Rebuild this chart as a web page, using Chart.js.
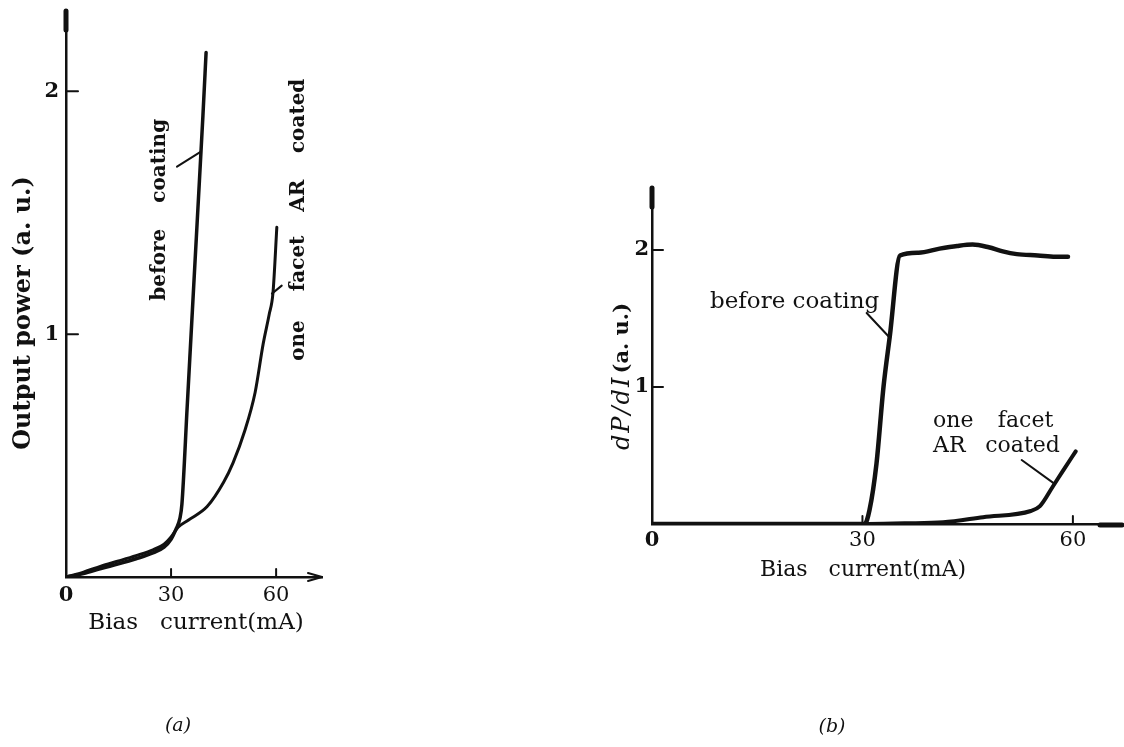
<!DOCTYPE html>
<html><head><meta charset="utf-8">
<script src="https://cdn.jsdelivr.net/npm/chart.js@4.4.1/dist/chart.umd.min.js"></script>
<style>
html,body{margin:0;padding:0;background:#fff;}
#wrap{position:relative;width:1124px;height:747px;overflow:hidden;background:#fff;}
canvas{position:absolute;top:0;}
#ca{left:0;} #cb{left:562px;}
</style></head><body>
<div id="wrap"><canvas id="ca" width="562" height="747"></canvas><canvas id="cb" width="562" height="747"></canvas></div>
<script>
const INK = '#111';
const SERIF = "'DejaVu Serif', 'Liberation Serif', serif";

// ---- Panel (a): output power vs bias current ----
const aTicksX = [0, 30, 60];
const aTicksY = [1, 2];
const aBeforeI = [0, 5, 10, 15, 20, 25, 28, 30, 31.5, 32.5, 33.1, 34.6, 36.1, 37.6, 39.1, 40];
const aBeforeP = [0, 0.014, 0.035, 0.054, 0.075, 0.1, 0.123, 0.155, 0.2, 0.24, 0.3, 0.7, 1.1, 1.5, 1.9, 2.16];
const aArI = [0, 5, 10, 15, 20, 25, 28, 30, 32, 35, 40.3, 45, 47.7, 51, 54, 56.3, 58, 59.1, 60.2];
const aArP = [0, 0.02, 0.045, 0.066, 0.088, 0.113, 0.135, 0.165, 0.205, 0.235, 0.29, 0.39, 0.47, 0.6, 0.76, 0.96, 1.08, 1.17, 1.44];

// ---- Panel (b): dP/dI vs bias current ----
const bTicksX = [0, 30, 60];
const bTicksY = [1, 2];
const bBeforeI = [0, 10, 20, 30.3, 31, 32, 33, 33.9, 35.35, 38, 41, 43.5, 45.7, 48, 50, 52, 55, 57.5, 59.3];
const bBeforeD = [0, 0, 0, 0, 0.1, 0.44, 1.0, 1.37, 1.96, 1.98, 2.01, 2.03, 2.04, 2.02, 1.99, 1.97, 1.96, 1.95, 1.95];
const bArI = [0, 10, 20, 30, 36, 41.5, 47.2, 54, 55.3, 57.1, 58.6, 60.4];
const bArD = [0, 0, 0, 0, 0.005, 0.012, 0.05, 0.095, 0.13, 0.27, 0.39, 0.53];

const pts = (xs, ys) => xs.map((v, i) => ({x: v, y: ys[i]}));

function seg(ctx, x1, y1, x2, y2) { ctx.beginPath(); ctx.moveTo(x1, y1); ctx.lineTo(x2, y2); ctx.stroke(); }

function makeDecor(cfg) {
  return {
    id: 'decor_' + cfg.name,
    afterDraw(chart) {
      const {ctx, chartArea: ca} = chart;
      const x = chart.scales.x, y = chart.scales.y;
      ctx.save();
      ctx.strokeStyle = INK; ctx.fillStyle = INK; ctx.lineCap = 'round';
      ctx.lineWidth = 2;
      cfg.xTicks.forEach(v => { if (v === 0) return; const px = x.getPixelForValue(v); seg(ctx, px, ca.bottom, px, ca.bottom - cfg.xTickLen); });
      cfg.yTicks.forEach(v => { const py = y.getPixelForValue(v); seg(ctx, ca.left, py, ca.left + cfg.yTickLen, py); });
      ctx.lineWidth = 5; seg(ctx, ca.left, ca.top + 1, ca.left, ca.top + 20);
      cfg.axisEnd(ctx, ca);
      ctx.lineWidth = 2;
      cfg.leaders.forEach(L => seg(ctx, x.getPixelForValue(L[0]), y.getPixelForValue(L[1]), x.getPixelForValue(L[2]), y.getPixelForValue(L[3])));
      cfg.labels.forEach(l => {
        ctx.save();
        ctx.font = l.font;
        ctx.translate(x.getPixelForValue(l.x), y.getPixelForValue(l.y));
        if (l.rot) ctx.rotate(-Math.PI / 2);
        ctx.textAlign = l.align || 'center';
        ctx.textBaseline = l.base || 'middle';
        ctx.fillText(l.t, 0, 0);
        ctx.restore();
      });
      cfg.extra(ctx, ca);
      ctx.restore();
    }
  };
}

function scales(o) {
  return {
    x: {
      type: 'linear', min: 0, max: o.xMax,
      afterBuildTicks: s => { s.ticks = o.xTicks.map(v => ({value: v})); },
      afterFit: s => { s.height = o.xH; s.paddingLeft = 0; s.paddingRight = 0; },
      grid: {display: false, drawTicks: false},
      border: {display: true, color: INK, width: 2.5},
      ticks: {color: INK, padding: o.xPad, autoSkip: false, maxRotation: 0,
        font: c => ({family: SERIF, size: 21, weight: (c.tick && c.tick.value === 0) ? 'bold' : 'normal'})}
    },
    y: {
      type: 'linear', min: 0, max: o.yMax,
      afterBuildTicks: s => { s.ticks = o.yTicks.map(v => ({value: v})); },
      afterFit: s => { s.width = o.yW; s.paddingTop = 0; s.paddingBottom = 0; },
      grid: {display: false, drawTicks: false},
      border: {display: true, color: INK, width: 2.5},
      ticks: {color: INK, padding: o.yPad, font: {family: SERIF, size: 21, weight: 'bold'}}
    }
  };
}

const common = {
  responsive: false, animation: false, devicePixelRatio: 1,
  plugins: {legend: {display: false}, tooltip: {enabled: false}},
  elements: {point: {radius: 0}, line: {cubicInterpolationMode: 'monotone', borderCapStyle: 'round', borderJoinStyle: 'round'}}
};

// Chart (a)
new Chart(document.getElementById('ca'), {
  type: 'line',
  data: {datasets: [
    {label: 'before coating', data: pts(aBeforeI, aBeforeP), borderColor: INK, borderWidth: 3.5, fill: false},
    {label: 'one facet AR coated', data: pts(aArI, aArP), borderColor: INK, borderWidth: 3, fill: false}
  ]},
  options: Object.assign({}, common, {
    layout: {padding: {left: 0, top: 10, right: 240, bottom: 97}},
    scales: scales({xMax: 73.1, yMax: 2.335, xTicks: aTicksX, yTicks: aTicksY, xH: 73, yW: 66, xPad: 6, yPad: 7})
  }),
  plugins: [makeDecor({
    name: 'a', xTicks: aTicksX, yTicks: aTicksY, xTickLen: 8, yTickLen: 12,
    axisEnd: (ctx, ca) => {
      ctx.lineWidth = 2;
      seg(ctx, ca.right - 14, ca.bottom - 4, ca.right, ca.bottom);
      seg(ctx, ca.right - 14, ca.bottom + 4, ca.right, ca.bottom);
    },
    leaders: [[31.7, 1.69, 38.3, 1.75], [58.8, 1.167, 61.6, 1.2]],
    labels: [
      {t: 'coating', x: 26.8, y: 1.714, rot: true, font: 'bold 20px ' + SERIF},
      {t: 'before', x: 26.8, y: 1.286, rot: true, font: 'bold 20px ' + SERIF},
      {t: 'coated', x: 66.5, y: 1.899, rot: true, font: 'bold 20px ' + SERIF},
      {t: 'AR', x: 66.5, y: 1.570, rot: true, font: 'bold 20px ' + SERIF},
      {t: 'facet', x: 66.5, y: 1.291, rot: true, font: 'bold 20px ' + SERIF},
      {t: 'one', x: 66.5, y: 0.974, rot: true, font: 'bold 20px ' + SERIF}
    ],
    extra: (ctx, ca) => {
      ctx.save();
      ctx.translate(ca.left - 42, ca.top + 303);
      ctx.rotate(-Math.PI / 2);
      ctx.font = 'bold 24px ' + SERIF; ctx.textAlign = 'center'; ctx.textBaseline = 'middle';
      ctx.fillText('Output power (a. u.)', 0, 0);
      ctx.restore();
      ctx.font = '23px ' + SERIF; ctx.textAlign = 'center'; ctx.textBaseline = 'middle';
      ctx.fillText('Bias   current(mA)', ca.left + 130, ca.bottom + 46);
      ctx.font = 'italic 19px ' + SERIF;
      ctx.fillText('(a)', ca.left + 112, ca.bottom + 149);
    }
  })]
});

// Chart (b)
new Chart(document.getElementById('cb'), {
  type: 'line',
  data: {datasets: [
    {label: 'before coating', data: pts(bBeforeI, bBeforeD), borderColor: INK, borderWidth: 4.5, fill: false},
    {label: 'one facet AR coated', data: pts(bArI, bArD), borderColor: INK, borderWidth: 4, fill: false}
  ]},
  options: Object.assign({}, common, {
    layout: {padding: {left: 0, top: 187, right: 2, bottom: 163}},
    scales: scales({xMax: 67, yMax: 2.46, xTicks: bTicksX, yTicks: bTicksY, xH: 60, yW: 90, xPad: 4, yPad: 3})
  }),
  plugins: [makeDecor({
    name: 'b', xTicks: bTicksX, yTicks: bTicksY, xTickLen: 8, yTickLen: 11,
    axisEnd: (ctx, ca) => {
      ctx.lineWidth = 5;
      seg(ctx, ca.right - 22, ca.bottom + 1, ca.right, ca.bottom + 1);
    },
    leaders: [[30.6, 1.54, 33.9, 1.36], [52.7, 0.467, 57.2, 0.30]],
    labels: [
      {t: 'before coating', x: 8.27, y: 1.577, align: 'left', base: 'alphabetic', font: '23px ' + SERIF},
      {t: 'one', x: 40.06, y: 0.708, align: 'left', base: 'alphabetic', font: '22px ' + SERIF},
      {t: 'facet', x: 49.3, y: 0.708, align: 'left', base: 'alphabetic', font: '22px ' + SERIF},
      {t: 'AR', x: 40.06, y: 0.526, align: 'left', base: 'alphabetic', font: '22px ' + SERIF},
      {t: 'coated', x: 47.5, y: 0.526, align: 'left', base: 'alphabetic', font: '22px ' + SERIF}
    ],
    extra: (ctx, ca) => {
      ctx.save();
      ctx.translate(ca.left - 29, ca.bottom - 74);
      ctx.rotate(-Math.PI / 2);
      ctx.textAlign = 'left'; ctx.textBaseline = 'middle';
      ctx.font = 'italic 24px ' + SERIF;
      ctx.letterSpacing = '2px';
      ctx.fillText('dP/dI', 0, 0);
      const w = ctx.measureText('dP/dI').width;
      ctx.letterSpacing = '0px';
      ctx.font = 'bold 21px ' + SERIF;
      ctx.fillText('(a. u.)', w + 2, 0);
      ctx.restore();
      ctx.font = '22px ' + SERIF; ctx.textAlign = 'center'; ctx.textBaseline = 'middle';
      ctx.fillText('Bias   current(mA)', ca.left + 211, ca.bottom + 46);
      ctx.font = 'italic 19px ' + SERIF;
      ctx.fillText('(b)', ca.left + 180, ca.bottom + 203);
    }
  })]
});
</script>
</body></html>
